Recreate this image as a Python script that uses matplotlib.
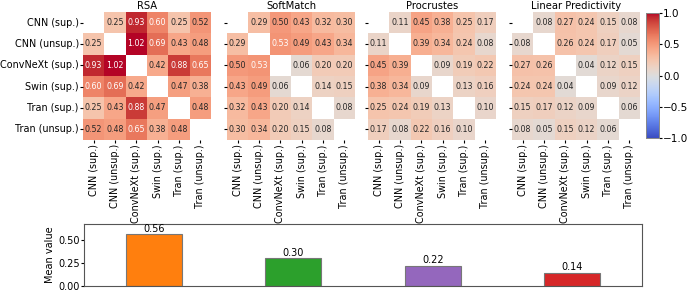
import numpy as np
import matplotlib
matplotlib.use('Agg')
import matplotlib.pyplot as plt
import seaborn as sns

models = ['CNN (sup.)', 'CNN (unsup.)', 'ConvNeXt (sup.)', 'Swin (sup.)', 'Tran (sup.)', 'Tran (unsup.)']
metrics = ['RSA', 'SoftMatch', 'Procrustes', 'Linear Predictivity']
nan = np.nan

rsa = [[nan, 0.25, 0.93, 0.60, 0.25, 0.52],
       [0.25, nan, 1.02, 0.69, 0.43, 0.48],
       [0.93, 1.02, nan, 0.42, 0.88, 0.65],
       [0.60, 0.69, 0.42, nan, 0.47, 0.38],
       [0.25, 0.43, 0.88, 0.47, nan, 0.48],
       [0.52, 0.48, 0.65, 0.38, 0.48, nan]]

softmatch = [[nan, 0.29, 0.50, 0.43, 0.32, 0.30],
             [0.29, nan, 0.53, 0.49, 0.43, 0.34],
             [0.50, 0.53, nan, 0.06, 0.20, 0.20],
             [0.43, 0.49, 0.06, nan, 0.14, 0.15],
             [0.32, 0.43, 0.20, 0.14, nan, 0.08],
             [0.30, 0.34, 0.20, 0.15, 0.08, nan]]

procrustes = [[nan, 0.11, 0.45, 0.38, 0.25, 0.17],
              [0.11, nan, 0.39, 0.34, 0.24, 0.08],
              [0.45, 0.39, nan, 0.09, 0.19, 0.22],
              [0.38, 0.34, 0.09, nan, 0.13, 0.16],
              [0.25, 0.24, 0.19, 0.13, nan, 0.10],
              [0.17, 0.08, 0.22, 0.16, 0.10, nan]]

linear = [[nan, 0.08, 0.27, 0.24, 0.15, 0.08],
          [0.08, nan, 0.26, 0.24, 0.17, 0.05],
          [0.27, 0.26, nan, 0.04, 0.12, 0.15],
          [0.24, 0.24, 0.04, nan, 0.09, 0.12],
          [0.15, 0.17, 0.12, 0.09, nan, 0.06],
          [0.08, 0.05, 0.15, 0.12, 0.06, nan]]

mean_values = [0.56, 0.30, 0.22, 0.14]
bar_colors = ['tab:orange', 'tab:green', 'tab:purple', 'tab:red']

fig = plt.figure(figsize=(6.88, 2.95), dpi=100)

# heatmap axes positions (pixel-measured from reference)
lefts = [83, 227, 368, 512]
W, H = 688.0, 295.0
cax = fig.add_axes([646 / W, (H - 138) / H, 13 / W, 125 / H])

for i, (name, mat) in enumerate(zip(metrics, [rsa, softmatch, procrustes, linear])):
    ax = fig.add_axes([lefts[i] / W, (H - 140) / H, 128 / W, 128 / H])
    m = np.array(mat)
    sns.heatmap(m, ax=ax, cmap='coolwarm', vmin=-1, vmax=1, annot=True, fmt='.2f',
                annot_kws={'size': 5.7}, cbar=(i == 3), cbar_ax=cax if i == 3 else None,
                xticklabels=models, yticklabels=models if i == 0 else False, square=False)
    # light text only on the darkest cells
    for t in ax.texts:
        v = float(t.get_text())
        t.set_color('white' if v > 0.525 else '#262626')
    ax.set_title(name, fontsize=7.2, pad=2)
    ax.tick_params(axis='x', labelsize=6.9, rotation=90, length=2, pad=1)
    ax.tick_params(axis='y', labelsize=6.9, rotation=0, length=2, pad=1)
    if i > 0:
        ax.set_yticks(np.arange(6) + 0.5)
        ax.set_yticklabels([])

cax.tick_params(labelsize=7.5, length=2, pad=1)
cax.set_yticks([-1.0, -0.5, 0.0, 0.5, 1.0])
for s in cax.spines.values():
    s.set_visible(True)
    s.set_color('#888888')
    s.set_linewidth(0.6)

# bar chart of mean values
bx = fig.add_axes([84 / W, 9 / H, 558 / W, 62 / H])
bars = bx.bar(range(len(metrics)), mean_values, width=0.4, color=bar_colors,
              edgecolor='#777777', linewidth=0.8)
bx.bar_label(bars, fmt='%.2f', fontsize=7, padding=0.5)
bx.set_xlim(-0.5, 3.5)
bx.set_ylim(0, max(mean_values) * 1.2)
bx.set_xticks([])
bx.set_yticks([0.0, 0.25, 0.5])
bx.set_yticklabels(['0.00', '0.25', '0.50'])
bx.tick_params(axis='y', labelsize=7, length=2, pad=1)
bx.set_ylabel('Mean value', fontsize=7, labelpad=2)
for s in bx.spines.values():
    s.set_color('#555555')
    s.set_linewidth(0.8)

fig.savefig('out.png', dpi=100)
